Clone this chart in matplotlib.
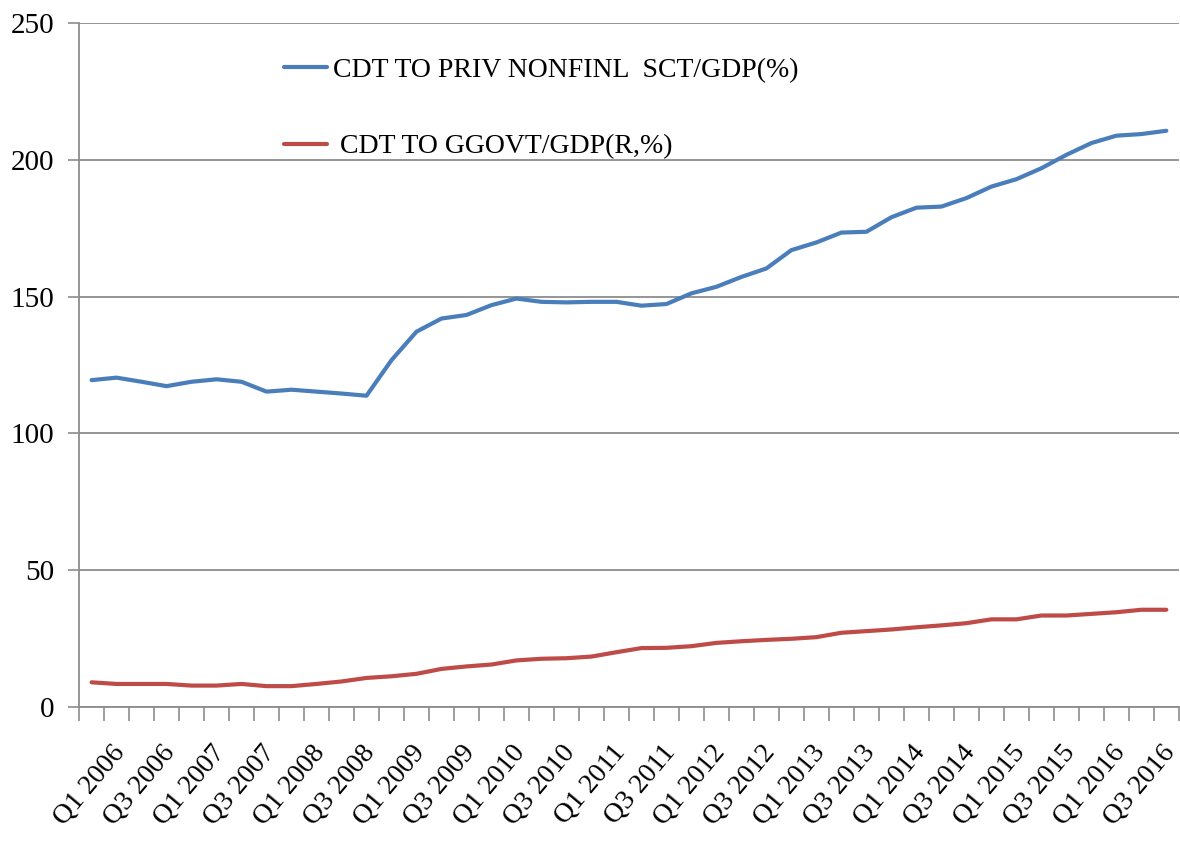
import numpy as np
import matplotlib
matplotlib.use("Agg")
import matplotlib.pyplot as plt
import matplotlib.transforms as mtransforms

# quarterly credit ratios, Q1 2006 .. Q4 2016
quarters = ["Q%d %d" % (q, y) for y in range(2006, 2017) for q in (1, 2, 3, 4)]

priv_nonfin = [119.5, 120.4, 118.9, 117.3, 118.9, 119.8, 118.9, 115.3, 116.0, 115.3,
               114.6, 113.8, 126.8, 137.2, 142.0, 143.3, 146.9, 149.3, 148.1, 147.9,
               148.1, 148.1, 146.7, 147.3, 151.2, 153.6, 157.2, 160.3, 167.0, 169.8,
               173.4, 173.7, 179.0, 182.5, 182.9, 186.0, 190.2, 192.9, 196.9, 201.8,
               206.1, 208.8, 209.4, 210.6]

gen_govt = [9.1, 8.5, 8.5, 8.5, 7.9, 7.9, 8.5, 7.7, 7.7, 8.5,
            9.4, 10.7, 11.3, 12.2, 14.0, 14.9, 15.6, 17.1, 17.7, 17.9,
            18.5, 20.1, 21.6, 21.7, 22.3, 23.5, 24.1, 24.6, 25.0, 25.6,
            27.2, 27.8, 28.4, 29.2, 29.9, 30.7, 32.1, 32.1, 33.5, 33.5,
            34.1, 34.7, 35.6, 35.6]

labels = ["CDT TO PRIV NONFINL  SCT/GDP(%)", " CDT TO GGOVT/GDP(R,%)"]
yticks = [0, 50, 100, 150, 200, 250]

plt.rcParams['font.family'] = ['Liberation Serif', 'DejaVu Serif']
grey = "#8c8c8c"

fig = plt.figure(figsize=(11.8, 8.49), dpi=100)
ax = fig.add_axes([0.067, 0.167, 0.932, 0.806])

x = np.arange(len(quarters))
ax.plot(x, priv_nonfin, color="#4a7ebb", lw=3.0, label=labels[0], solid_capstyle="round")
ax.plot(x, gen_govt, color="#be4b48", lw=3.0, label=labels[1], solid_capstyle="round")

ax.set_xlim(-0.5, len(quarters) - 0.5)
ax.set_ylim(0, 250)
ax.set_yticks(yticks)
ax.yaxis.grid(True, color=grey, lw=1.3)
ax.set_axisbelow(True)

for side in ("top", "right"):
    ax.spines[side].set_visible(False)
for side in ("left", "bottom"):
    ax.spines[side].set_color(grey)
    ax.spines[side].set_linewidth(1.3)

ax.tick_params(axis="y", length=8, width=1.2, color=grey, labelsize=21, pad=10)

# boundary ticks between quarters, labels on every other quarter
ax.set_xticks(np.arange(-0.5, len(quarters), 1), minor=True)
ax.set_xticks(x[::2])
ax.set_xticklabels(quarters[::2], rotation=50, ha="right", va="top",
                   rotation_mode="anchor", fontsize=20)
ax.tick_params(axis="x", which="major", length=0, pad=24)
ax.tick_params(axis="x", which="minor", length=10, width=1.2, color=grey)
shift = mtransforms.ScaledTranslation(0.2, 0, fig.dpi_scale_trans)
for lbl in ax.get_xticklabels():
    lbl.set_transform(lbl.get_transform() + shift)

ax.legend(loc="upper left", bbox_to_anchor=(0.179, 0.962), frameon=False,
          fontsize=20, handlelength=1.55, handletextpad=0.2, labelspacing=1.85,
          borderaxespad=0, borderpad=0.3)

fig.savefig("out.png", dpi=100)
